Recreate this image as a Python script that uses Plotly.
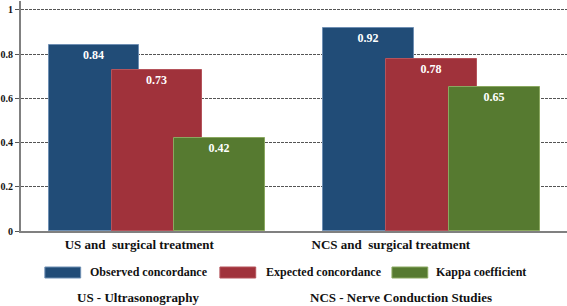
import plotly.graph_objects as go

categories = ["US and  surgical treatment", "NCS and  surgical treatment"]
series_names = ["Observed concordance", "Expected concordance", "Kappa coefficient"]
observed = [0.84, 0.92]
expected = [0.73, 0.78]
kappa = [0.42, 0.65]
y_ticks = [0, 0.2, 0.4, 0.6, 0.8, 1]
notes = ["US - Ultrasonography", "NCS - Nerve Conduction Studies"]

colors = ["#214c77", "#a0323b", "#567a30"]
edge = ["#6f8fb3", "#b5535b", "#8aa860"]
BAR_W = 0.36
GROUP_OFF = [-0.360, -0.269]
STEP = 0.25
FONT = "Liberation Serif"

fig = go.Figure()
for i, (name, vals) in enumerate(zip(series_names, [observed, expected, kappa])):
    fig.add_trace(go.Bar(
        x=categories, y=vals, name=name,
        width=BAR_W, offset=[g + i * STEP for g in GROUP_OFF],
        marker=dict(color=colors[i], line=dict(color=edge[i], width=1)),
        text=[f"{v:.2f}" for v in vals], textposition="inside",
        insidetextanchor="end", textangle=0,
        textfont=dict(family=FONT, size=12, color="white", weight="bold"),
        showlegend=False,
    ))

W, H = 567, 306
L, R, T, B = 18, 0, 1, 75
pw, ph = W - L - R, H - T - B

def px(x):
    return (x - L) / pw

def py(y):
    return (H - B - y) / ph

shapes = []
annotations = []
sw_x = [42, 218, 391]
tx_x = [85, 262, 433]
for i, name in enumerate(series_names):
    shapes.append(dict(type="rect", xref="paper", yref="paper",
                       x0=px(sw_x[i]), x1=px(sw_x[i] + 36), y0=py(278), y1=py(267),
                       fillcolor=colors[i], line=dict(color=edge[i], width=1)))
    annotations.append(dict(text=name, xref="paper", yref="paper", x=px(tx_x[i]), y=py(272),
                            xanchor="left", yanchor="middle", showarrow=False,
                            font=dict(family=FONT, size=12, color="#111", weight="bold")))
note_x = [136.5, 400]
for t, xc in zip(notes, note_x):
    annotations.append(dict(text=t, xref="paper", yref="paper", x=px(xc), y=py(298),
                            xanchor="center", yanchor="middle", showarrow=False,
                            font=dict(family=FONT, size=13, color="#111", weight="bold")))

fig.update_layout(
    width=W, height=H, margin=dict(l=L, r=R, t=T, b=B),
    barmode="overlay", bargap=0,
    plot_bgcolor="white", paper_bgcolor="white",
    shapes=shapes, annotations=annotations,
    xaxis=dict(type="category", range=[-0.47, 1.70], showgrid=False,
               showline=True, linecolor="#808080", linewidth=2, ticks="",
               tickfont=dict(family=FONT, size=13, color="#111", weight="bold")),
    yaxis=dict(range=[0, 1.04], tickvals=y_ticks, ticktext=[f"{v:g}" for v in y_ticks],
               showgrid=True, gridcolor="#555", gridwidth=1, griddash="3px,1px",
               zeroline=False, showline=True, linecolor="#808080", linewidth=2,
               ticks="outside", ticklen=4, tickcolor="#555",
               tickfont=dict(family=FONT, size=10, color="#111", weight="bold")),
)
fig.write_html("out.html", config={"displayModeBar": False},
               post_script="document.body.style.margin='0';")
